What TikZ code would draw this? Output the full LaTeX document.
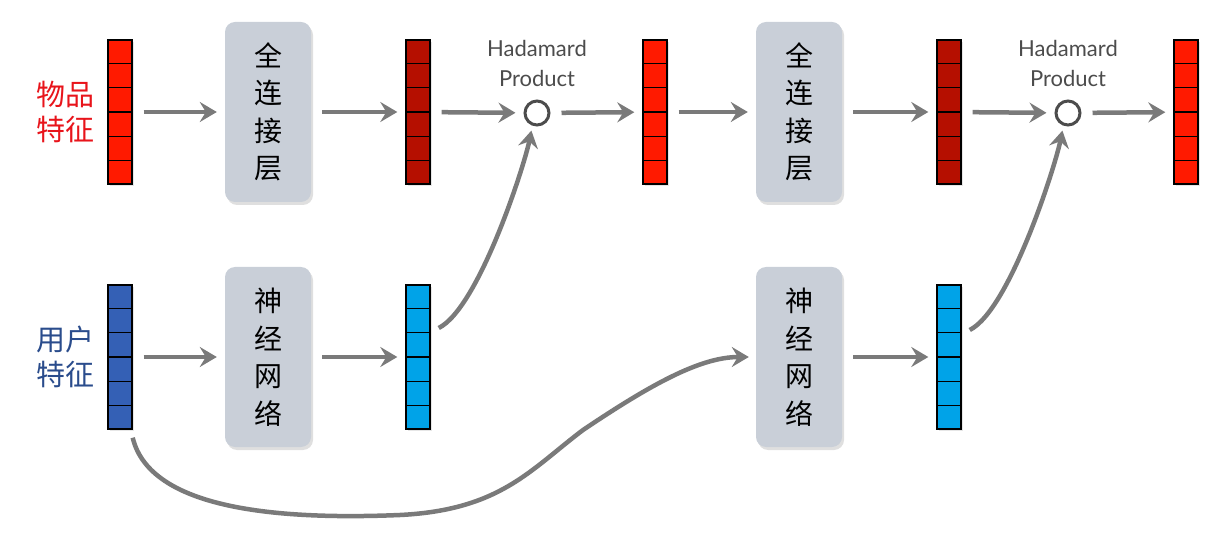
\documentclass[tikz,border=0pt]{standalone}
\usepackage{fontspec}
\setmainfont{Lato}
\newfontfamily\cjk{Noto Sans CJK SC}
\usetikzlibrary{arrows.meta, positioning, calc, shadows}

\definecolor{itemred}{HTML}{FF1A00}
\definecolor{darkred}{HTML}{B50F00}
\definecolor{userblue}{HTML}{3460B5}
\definecolor{lightblue}{HTML}{00A3E8}
\definecolor{boxgray}{HTML}{C9CFD8}
\definecolor{arrowgray}{HTML}{7A7A7A}
\definecolor{labelred}{HTML}{E8141B}
\definecolor{labelblue}{HTML}{2A4C8C}

\begin{document}
\begin{tikzpicture}[x=1pt,y=-1pt,
  vec/.style={draw=black, line width=1.4pt, minimum width=24pt, minimum height=144pt,
    inner sep=0pt, drop shadow={shadow xshift=2pt, shadow yshift=-2pt, opacity=0.2}},
  layer/.style={fill=boxgray, rounded corners=10pt, minimum width=86pt, minimum height=180pt,
    inner sep=0pt, align=center, font=\cjk\fontsize{28}{37.5}\selectfont,
    drop shadow={shadow xshift=2pt, shadow yshift=-3pt, opacity=0.25}},
  had/.style={circle, draw=black!70, line width=3pt, minimum size=24pt, inner sep=0pt},
  hadtext/.style={text=black!70, align=center, font=\fontsize{22}{30}\selectfont},
  feat/.style={align=center, font=\cjk\fontsize{29}{35}\selectfont},
  arr/.style={draw=arrowgray, line width=4.5pt, -{Stealth[length=17pt,width=20pt,inset=6pt]},
    shorten <=11pt, shorten >=8pt},
  cell/.style={draw=black, line width=1.4pt}
]
\useasboundingbox (0,0) rectangle (1223,534);

% item row
\node[vec, fill=itemred] (in1) at (120,112) {};
\node[layer] (fc1) at (268,112) {全\\连\\接\\层};
\node[vec, fill=darkred] (h1) at (418,112) {};
\node[had] (had1) at (537,113) {};
\node[hadtext, above=9pt of had1] (ht1) {Hadamard\\Product};
\node[vec, fill=itemred] (out1) at (655,112) {};
\node[layer] (fc2) at (799,112) {全\\连\\接\\层};
\node[vec, fill=darkred] (h2) at (949,112) {};
\node[had] (had2) at (1068,113) {};
\node[hadtext, above=9pt of had2] (ht2) {Hadamard\\Product};
\node[vec, fill=itemred] (out2) at (1186,112) {};

% user row
\node[vec, fill=userblue] (user) at (120,357) {};
\node[layer] (nn1) at (268,357) {神\\经\\网\\络};
\node[vec, fill=lightblue] (u1) at (418,357) {};
\node[layer] (nn2) at (799,357) {神\\经\\网\\络};
\node[vec, fill=lightblue] (u2) at (949,357) {};

% labels
\node[feat, text=labelred] (itemlab) at (65,112) {物品\\特征};
\node[feat, text=labelblue] (userlab) at (65,357) {用户\\特征};

% cells
\foreach \v in {in1,h1,out1,h2,out2,user,u1,u2}
  \foreach \i in {1,...,5}
    \draw[cell] ($(\v.north west)!\i/6!(\v.south west)$) -- ($(\v.north east)!\i/6!(\v.south east)$);

% straight arrows
\draw[arr] (in1) -- (fc1);
\draw[arr] (fc1) -- (h1);
\draw[arr] (h1) -- (had1);
\draw[arr] (had1) -- (out1);
\draw[arr] (out1) -- (fc2);
\draw[arr] (fc2) -- (h2);
\draw[arr] (h2) -- (had2);
\draw[arr] (had2) -- (out2);
\draw[arr] (user) -- (nn1);
\draw[arr] (nn1) -- (u1);
\draw[arr] (nn2) -- (u2);

% curved arrows
\draw[arr, shorten <=0pt, shorten >=5pt] ([xshift=8pt,yshift=29pt]u1.east)
  .. controls +(40,-20) and +(-8,40) .. (had1.-110);
\draw[arr, shorten <=0pt, shorten >=5pt] ([xshift=8pt,yshift=27pt]u2.east)
  .. controls +(40,-20) and +(-8,40) .. (had2.-110);
\draw[arr, shorten <=0pt, shorten >=7pt] ([yshift=-8pt]user.south east)
  .. controls (150,510) and (280,520) .. (400,515)
  .. controls (500,510) and (530,470) .. (583,430)
  .. controls (650,385) and (700,357) .. (nn2.west);
\end{tikzpicture}
\end{document}
